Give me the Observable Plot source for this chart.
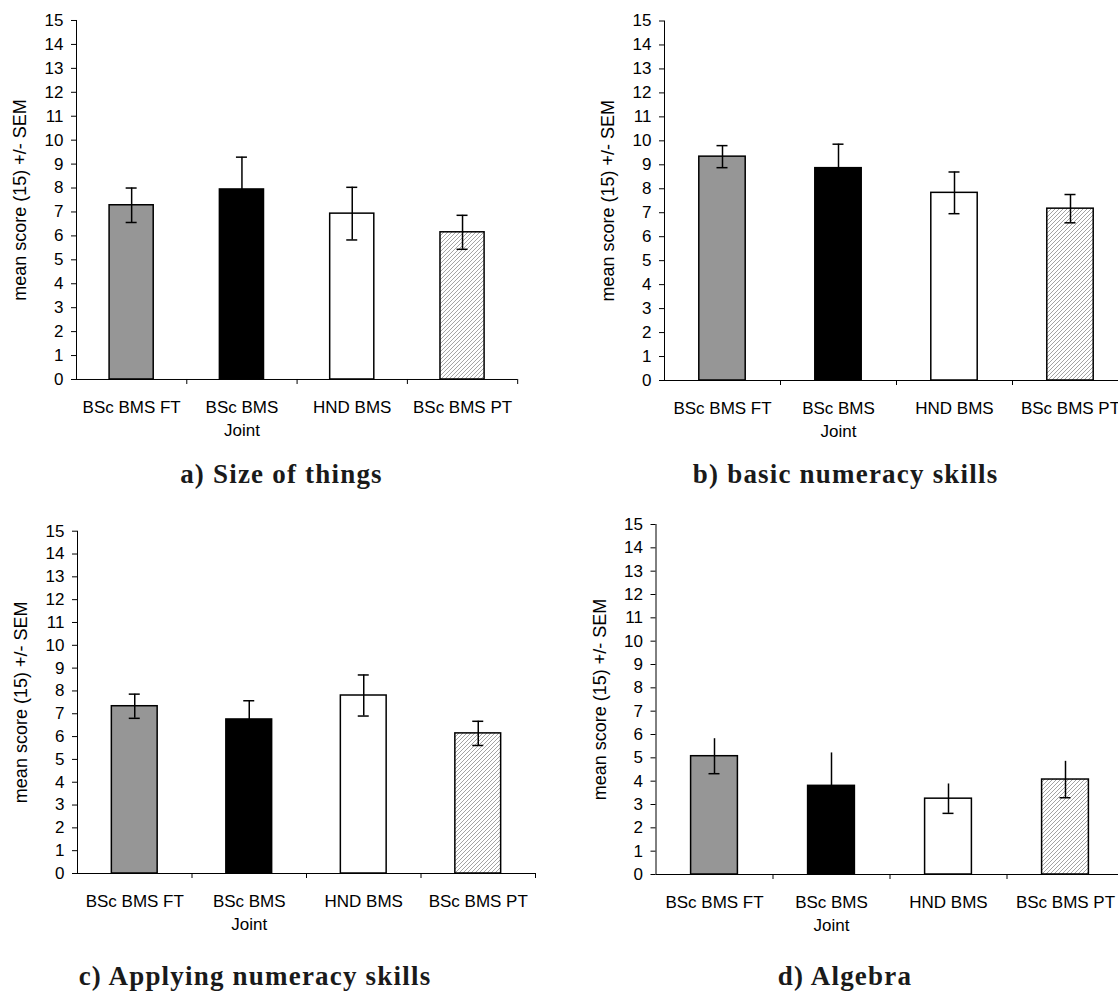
<!DOCTYPE html>
<html><head><meta charset="utf-8">
<script src="https://cdn.jsdelivr.net/npm/d3@7"></script>
<script src="https://cdn.jsdelivr.net/npm/@observablehq/plot@0.6"></script>
<style>
html,body{margin:0;padding:0;background:#fff;}
#page{position:relative;width:1118px;height:993px;overflow:hidden;background:#fff;}
.panel{position:absolute;}
.title{position:absolute;font-family:"Liberation Serif","Times New Roman",serif;font-weight:bold;font-size:27px;color:#1a1a1a;white-space:nowrap;transform:translateX(-50%);letter-spacing:1.2px;line-height:1;}
</style></head><body>
<div id="page">
<svg width="0" height="0" style="position:absolute">
 <defs><pattern id="hatch" patternUnits="userSpaceOnUse" width="4" height="4">
   <rect width="4" height="4" fill="#fff"/>
   <path d="M-1,1 l2,-2 M0,4 l4,-4 M3,5 l2,-2" stroke="#999999" stroke-width="0.9"/>
 </pattern></defs></svg>
</div>
<script>
// ---- data ----
const categories = ["BSc BMS FT", "BSc BMS Joint", "HND BMS", "BSc BMS PT"];
const tickLabels = ["BSc BMS FT", "BSc BMS\nJoint", "HND BMS", "BSc BMS PT"];
const yTicks = [0,1,2,3,4,5,6,7,8,9,10,11,12,13,14,15];
const yTitle = "mean score (15) +/- SEM";
const panelTitles = ["a) Size of things", "b) basic numeracy skills", "c) Applying numeracy skills", "d) Algebra"];

const meansA = [7.28, 7.94, 6.93, 6.15];
const semA   = [0.72, 1.35, 1.10, 0.71];
const meansB = [9.34, 8.86, 7.83, 7.17];
const semB   = [0.46, 1.00, 0.87, 0.59];
const meansC = [7.33, 6.75, 7.80, 6.14];
const semC   = [0.53, 0.82, 0.90, 0.53];
const meansD = [5.07, 3.80, 3.25, 4.07];
const semD   = [0.75, 1.41, 0.63, 0.78];

// ---- styles / layout ----
const barFills = ["#969696", "#000000", "#ffffff", "url(#hatch)"];
const layouts = [
  {left: 0,   top: 0,   axis: 76,    plotTop: 20,    base: 379, step: 110.3, caps: "both"},
  {left: 560, top: 0,   axis: 664,   plotTop: 20.5,  base: 380, step: 116,   caps: "both"},
  {left: 0,   top: 500, axis: 77,    plotTop: 530.7, base: 873, step: 114.5, caps: "both"},
  {left: 560, top: 500, axis: 655.5, plotTop: 524,   base: 874, step: 117,   caps: "bottom"}
];
const titlePos = [{cx: 281.5, base: 484}, {cx: 845.6, base: 484}, {cx: 255, base: 986}, {cx: 845, base: 986}];

function makePanel(means, sems, g) {
  const rows = categories.map((c, i) => ({cat: c, label: tickLabels[i], mean: means[i], sem: sems[i]}));
  const ml = g.axis - g.left;
  const mt = g.plotTop - g.top;
  const mr = 10, mb = 80;
  const W = ml + 4 * g.step + mr;
  const H = mt + (g.base - g.plotTop) + mb;
  const bw = 0.4 * g.step;
  const capInset = (bw - 11) / 2;
  const marks = [
    Plot.barY(rows, {x: "cat", y: "mean", fill: "cat", stroke: "#000", strokeWidth: 1.5}),
    Plot.ruleX(rows, {x: "cat", y1: d => d.mean - d.sem, y2: d => d.mean + d.sem, stroke: "#000", strokeWidth: 1.5}),
    Plot.tickY(rows, {x: "cat", y: d => d.mean - d.sem, stroke: "#000", strokeWidth: 1.5, insetLeft: capInset, insetRight: capInset})
  ];
  if (g.caps === "both") {
    marks.push(Plot.tickY(rows, {x: "cat", y: d => d.mean + d.sem, stroke: "#000", strokeWidth: 1.5, insetLeft: capInset, insetRight: capInset}));
  }
  marks.push(
    Plot.ruleY([0], {stroke: "#000", strokeWidth: 1}),
    Plot.ruleX([categories[0]], {x: d => d, y1: 0, y2: 15, dx: -g.step / 2, stroke: "#000", strokeWidth: 1}),
    Plot.ruleX(categories, {x: d => d, y1: 0, y2: 0, dx: g.step / 2, insetTop: 5, stroke: "#000", strokeWidth: 1}),
    Plot.axisY({ticks: yTicks, tickSize: 5, tickPadding: 8, label: null, fontSize: 17, tickFormat: d => String(d)}),
    Plot.text(rows, {x: "cat", y: 0, text: "label", lineAnchor: "top", dy: 17, lineHeight: 1.37, fontSize: 17, fill: "#000"}),
    Plot.text([yTitle], {frameAnchor: "left", rotate: -90, dx: -56, textAnchor: "middle", lineAnchor: "middle", text: d => d, fontSize: 18, fill: "#000"})
  );
  const svg = Plot.plot({
    width: W, height: H,
    marginLeft: ml, marginRight: mr, marginTop: mt, marginBottom: mb,
    style: {fontFamily: "'Liberation Sans', Arial, sans-serif", fontSize: "17px", color: "#000", background: "transparent", overflow: "visible", maxWidth: "none"},
    x: {domain: categories, paddingInner: 0.6, paddingOuter: 0.3, round: false, axis: null},
    y: {domain: [0, 15], axis: null},
    color: {domain: categories, range: barFills},
    marks
  });
  svg.classList.add("panel");
  svg.style.left = g.left + "px";
  svg.style.top = g.top + "px";
  svg.style.position = "absolute";
  return svg;
}

const page = document.getElementById("page");
const allMeans = [meansA, meansB, meansC, meansD];
const allSems = [semA, semB, semC, semD];
layouts.forEach((g, i) => {
  page.appendChild(makePanel(allMeans[i], allSems[i], g));
  const t = document.createElement("div");
  t.className = "title";
  t.textContent = panelTitles[i];
  t.style.left = titlePos[i].cx + "px";
  t.style.top = (titlePos[i].base - 22.6) + "px";
  page.appendChild(t);
});
</script>
</body></html>
